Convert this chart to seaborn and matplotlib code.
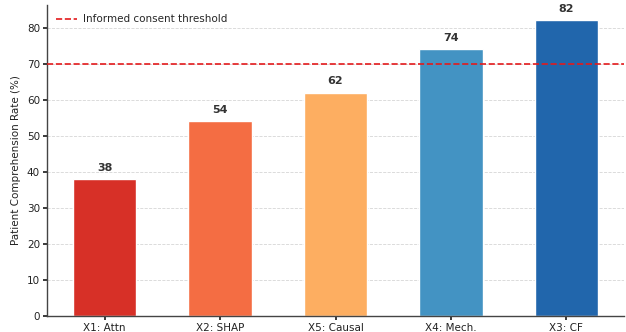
import matplotlib
matplotlib.use("Agg")
import matplotlib.pyplot as plt
import seaborn as sns
import pandas as pd

methods = ["X1: Attn", "X2: SHAP", "X5: Causal", "X4: Mech.", "X3: CF"]
comprehension = [38, 54, 62, 74, 82]
bar_colors = ["#d73027", "#f46d43", "#fdae61", "#4393c3", "#2166ac"]
threshold = 70

sns.set_theme(style="white")
plt.rcParams["font.family"] = ["DejaVu Sans"]

df = pd.DataFrame({"method": methods, "rate": comprehension})

fig, ax = plt.subplots(figsize=(6.26, 3.32), dpi=100)
fig.subplots_adjust(left=0.075, right=0.997, bottom=0.048, top=0.985)

sns.barplot(data=df, x="method", y="rate", hue="method", palette=bar_colors,
            saturation=1, legend=False, width=0.55, edgecolor="white",
            linewidth=1.0, ax=ax)

ax.axhline(threshold, color="#e31a1c", linestyle="--", linewidth=1.2,
           label="Informed consent threshold", zorder=3)

for i, v in enumerate(comprehension):
    ax.text(i, v + 1.7, f"{v}", ha="center", va="bottom", fontsize=8,
            fontweight="bold", color="#333333")

ax.set_ylim(0, 86.3)
ax.set_xlim(-0.5, 4.5)
ax.set_xlabel("")
ax.set_ylabel("Patient Comprehension Rate (%)", fontsize=7.5, color="#222222")
ax.set_yticks(range(0, 90, 10))
ax.tick_params(axis="both", labelsize=7.5, colors="#222222", length=3,
               left=True, bottom=True, pad=2)
ax.yaxis.grid(True, linestyle="--", color="#cccccc", linewidth=0.6, alpha=0.8)
ax.set_axisbelow(True)

sns.despine(ax=ax)
for side in ("left", "bottom"):
    ax.spines[side].set_color("#444444")
    ax.spines[side].set_linewidth(1.0)

ax.legend(loc="upper left", frameon=False, fontsize=7.5, handlelength=2.0,
          handletextpad=0.6)

fig.savefig("out.png", dpi=100)
